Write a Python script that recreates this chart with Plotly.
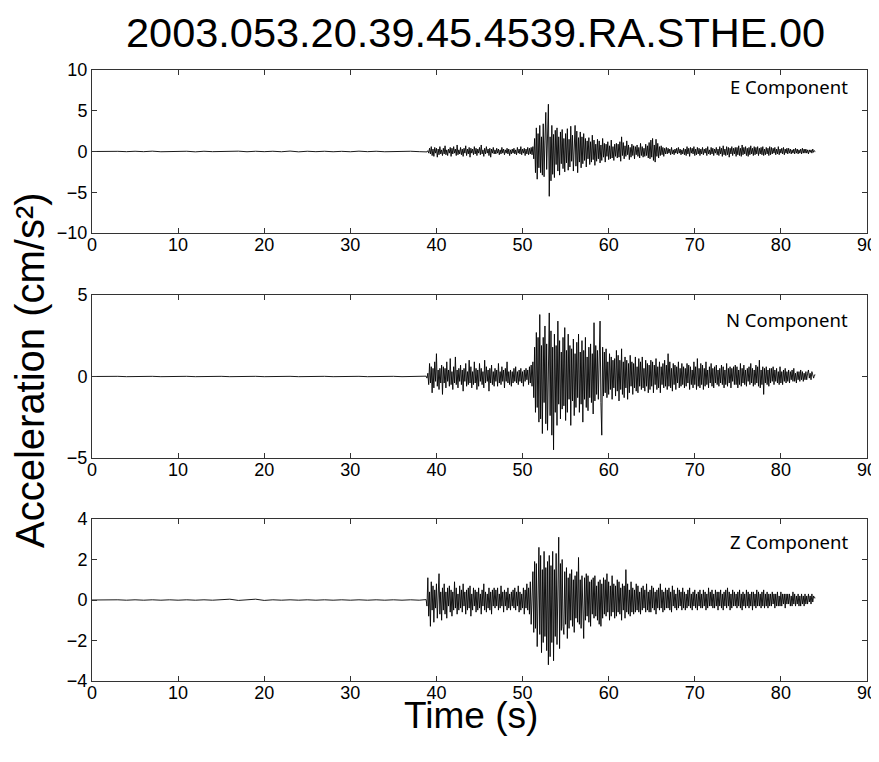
import numpy as np
import plotly.graph_objects as go

# ---------------- data ----------------
title_text = "2003.053.20.39.45.4539.RA.STHE.00"
components = ["E Component", "N Component", "Z Component"]
y_ranges = [[-10, 10], [-5, 5], [-4, 4]]
y_dticks = [5, 5, 2]
x_range = [0, 90]
x_dtick = 10

# pre-event record, one sample per second from 0 s
quiet_start = 0.0
quiet_step = 1.0
quiet_E = [0.0, 0.02, -0.03, 0.02, -0.02, 0.03, -0.02, 0.04, -0.03, 0.02,
           -0.02, 0.03, -0.04, 0.03, -0.02, 0.02, -0.03, 0.04, -0.03, 0.03,
           -0.02, 0.03, -0.03, 0.05, -0.04, 0.03, -0.02, 0.03, -0.03, 0.02,
           -0.03, 0.04, -0.02, 0.03, -0.03, 0.02, -0.02, 0.03, -0.02]
quiet_N = [0.0, 0.01, -0.01, 0.01, -0.01, 0.01, -0.01, 0.01, -0.01, 0.01,
           -0.01, 0.01, -0.01, 0.01, -0.01, 0.01, -0.01, 0.01, -0.01, 0.01,
           -0.01, 0.01, -0.01, 0.01, -0.01, 0.01, -0.01, 0.01, -0.01, 0.01,
           -0.01, 0.01, -0.01, 0.01, -0.01, 0.01, -0.01, 0.01, -0.01]
quiet_Z = [0.0, 0.01, -0.01, 0.01, -0.01, 0.01, -0.01, 0.01, -0.01, 0.01,
           -0.01, 0.01, -0.01, 0.01, -0.01, 0.01, 0.04, -0.02, 0.01, 0.04,
           -0.02, 0.01, -0.01, 0.01, -0.01, 0.01, -0.01, 0.01, -0.01, 0.01,
           -0.01, 0.01, -0.01, 0.01, -0.01, 0.01, -0.01, 0.01, -0.01]

# strong-motion record, one sample every 0.1 s from 38.8 s to 84.0 s
active_start = 38.8
sample_step = 0.1
acc_E = [
    0.02, -0.05, 0.1, -0.2, 0.4, -0.3, 0.6, -0.5, 0.3, -0.6, 0.5, -0.2, 0.4, -0.7, 0.3, -0.4, 0.6, -0.3, 0.2, -0.5,
    0.4, -0.3, 0.7, -0.4, 0.2, -0.5, 0.3, -0.2, 0.5, -0.6, 0.4, -0.3, 0.6, -0.2, 0.3, -0.5, 0.8, -0.4, 0.2, -0.3,
    0.5, -0.4, 0.3, -0.6, 0.4, -0.2, 0.7, -0.5, 0.3, -0.3, 0.5, -0.7, 0.4, -0.2, 0.3, -0.4, 0.6, -0.3, 0.4, -0.5,
    0.3, -0.2, 0.5, -0.4, 0.8, -0.3, 0.2, -0.6, 0.4, -0.3, 0.6, -0.2, 0.3, -0.5, 0.4, -0.7, 0.3, -0.2, 0.5, -0.3,
    0.2, -0.3, 0.4, -0.2, 0.3, -0.4, 0.2, -0.3, 0.5, -0.2, 0.3, -0.4, 0.2, -0.2, 0.4, -0.3, 0.3, -0.5, 0.2, -0.3,
    0.3, -0.2, 0.4, -0.3, 0.2, -0.4, 0.5, -0.2, 0.3, -0.3, 0.6, -0.4, 0.3, -0.2, 0.4, -0.5, 0.3, -0.3, 0.5, -0.4,
    0.4, -0.3, 0.5, -0.4, 0.6, -0.9, 1.6, -2.6, 2.9, -3.4, 2.2, -2.0, 3.2, -2.6, 1.8, -2.9, 3.4, -3.1, 1.4, 4.8,
    -2.2, 3.6, 5.8, -5.5, 1.8, -3.6, 3.2, -2.8, 2.1, -3.2, 2.6, -1.6, 2.9, -2.4, 1.8, -2.9, 2.4, -1.5, 2.7, -2.1,
    1.6, -2.5, 2.2, -1.4, 2.8, -2.3, 1.5, -1.9, 3.1, -1.2, 2.0, -2.4, 1.4, 3.2, -1.8, 2.5, -2.6, 1.7, -1.3, 2.4,
    -2.0, 1.8, -1.5, 2.2, -1.1, 1.6, -1.9, 1.3, -0.9, 1.7, -1.6, 1.2, -1.3, 2.0, -1.0, 1.4, -1.7, 0.9, -1.2, 1.5,
    -0.9, 1.3, -1.4, 0.8, -1.1, 1.6, -0.7, 1.0, -1.3, 0.9, -0.6, 1.2, -1.0, 0.7, -0.9, 1.4, -0.8, 0.6, -1.1, 0.9,
    -0.6, 1.0, -0.8, 0.9, -0.7, 1.2, -1.2, 1.8, -0.5, 1.1, -0.9, 0.7, -0.6, 1.3, -0.4, 0.8, -1.0, 0.5, -0.7, 0.9,
    -0.5, 0.7, -0.9, 0.6, -0.4, 0.8, -0.6, 0.5, -0.8, 1.0, -0.5, 0.6, -0.7, 0.4, -0.6, 0.9, -0.5, 0.7, -0.8, 1.1,
    -0.9, 1.4, -0.7, 1.6, -1.1, 0.8, -1.3, 1.5, -0.6, 1.0, -0.8, 0.6, -0.5, 0.7, -0.4, 0.5, -0.6, 0.4, -0.3, 0.5,
    -0.3, 0.4, -0.2, 0.3, -0.4, 0.5, -0.3, 0.2, -0.4, 0.3, -0.2, 0.4, -0.3, 0.5, -0.2, 0.3, -0.4, 0.2, -0.3, 0.4,
    -0.4, 0.3, -0.5, 0.6, -0.3, 0.4, -0.6, 0.5, -0.2, 0.4, -0.3, 0.6, -0.5, 0.3, -0.4, 0.5, -0.3, 0.4, -0.5, 0.3,
    -0.3, 0.5, -0.4, 0.3, -0.2, 0.4, -0.5, 0.6, -0.3, 0.2, -0.4, 0.5, -0.3, 0.4, -0.5, 0.3, -0.2, 0.5, -0.4, 0.3,
    -0.5, 0.6, -0.3, 0.4, -0.6, 0.7, -0.4, 0.3, -0.5, 0.6, -0.4, 0.5, -0.7, 0.4, -0.3, 0.6, -0.5, 0.4, -0.3, 0.5,
    -0.6, 0.5, -0.4, 0.7, -0.5, 0.4, -0.6, 0.8, -0.4, 0.5, -0.3, 0.6, -0.5, 0.4, -0.6, 0.5, -0.4, 0.7, -0.3, 0.4,
    -0.5, 0.6, -0.4, 0.5, -0.3, 0.6, -0.5, 0.4, -0.3, 0.5, -0.4, 0.6, -0.5, 0.3, -0.4, 0.5, -0.3, 0.4, -0.5, 0.6,
    -0.4, 0.5, -0.3, 0.4, -0.2, 0.5, -0.4, 0.3, -0.3, 0.6, -0.4, 0.3, -0.2, 0.4, -0.3, 0.5, -0.4, 0.3, -0.2, 0.4,
    -0.3, 0.4, -0.2, 0.3, -0.3, 0.2, -0.2, 0.3, -0.3, 0.4, -0.2, 0.3, -0.3, 0.2, -0.2, 0.3, -0.3, 0.4, -0.2, 0.3,
    -0.2, 0.3, -0.2, 0.2, -0.3, 0.2, -0.1, 0.2, -0.2, 0.3, -0.1, 0.1, 0.0]
acc_N = [
    0.02, -0.1, 0.2, -0.5, 0.8, -0.4, 0.6, -1.0, 0.5, -0.7, 0.9, -0.3, 1.4, -0.6, 0.4, -0.8, 0.5, -0.4, 0.7, -1.1,
    0.6, -0.4, 0.5, -0.7, 0.9, -0.3, 0.4, -0.6, 1.1, -0.5, 0.3, -0.8, 0.6, -0.4, 1.2, -0.5, 0.4, -0.7, 0.5, -0.3,
    0.7, -0.5, 0.4, -0.9, 0.5, -0.3, 0.8, -0.6, 0.3, -0.5, 1.0, -0.4, 0.6, -0.7, 0.3, -0.5, 0.9, -0.4, 0.5, -0.8,
    0.4, -0.6, 0.8, -0.3, 0.5, -0.5, 0.3, -0.7, 1.0, -0.4, 0.6, -0.3, 0.4, -0.9, 0.5, -0.4, 0.7, -0.5, 0.3, -0.6,
    0.5, -0.3, 0.4, -0.6, 0.8, -0.4, 0.3, -0.5, 0.6, -0.3, 0.4, -0.7, 0.5, -0.3, 0.9, -0.4, 0.3, -0.5, 0.4, -0.6,
    0.3, -0.4, 0.5, -0.3, 0.6, -0.4, 0.3, -0.5, 0.4, -0.3, 0.5, -0.4, 0.3, -0.6, 0.4, -0.3, 0.5, -0.2, 0.4, -0.5,
    0.6, -0.4, 0.7, -0.6, 0.9, -1.3, 1.8, -2.2, 2.7, -1.9, 2.4, -2.8, 3.8, -2.6, 1.9, -3.5, 2.4, -1.6, 3.1, -2.9,
    2.0, -3.3, 1.5, 3.9, -2.4, 2.8, -3.6, 1.8, -4.5, 2.6, -2.2, 1.9, -3.0, 3.4, -1.7, 2.2, -2.6, 1.5, -2.0, 2.4,
    -1.8, 3.0, -2.7, 1.6, -2.2, 2.6, -1.4, 1.9, -3.0, 1.7, -1.5, 2.3, -2.4, 1.4, -1.9, 2.1, -1.3, 2.6, -2.2, 1.5,
    -1.7, 2.2, -2.8, 1.6, -1.4, 2.4, -1.9, 1.2, -2.1, 1.8, -1.3, 2.0, -1.6, 1.4, -2.3, 3.3, -1.5, 1.9, -1.1, 1.6,
    -1.4, 1.2, 3.4, -1.6, -3.6, 1.8, -1.2, 1.5, -1.0, 1.7, -1.3, 0.9, -1.1, 1.4, -0.8, 1.2, -1.4, 1.0, -0.7, 1.1,
    -1.2, 1.6, -0.9, 1.3, -1.5, 1.0, -0.8, 1.7, -1.1, 0.9, -1.3, 1.2, -0.7, 1.0, -1.4, 0.8, -1.0, 1.3, -0.6, 0.9,
    -1.1, 0.8, -0.7, 1.2, -0.9, 0.6, -1.0, 1.1, -0.6, 0.9, -0.8, 1.2, -0.7, 0.5, -0.9, 1.0, -0.6, 0.8, -1.0, 0.7,
    -0.8, 1.0, -0.6, 0.9, -1.0, 0.7, -0.5, 1.1, -0.8, 0.6, -0.7, 0.9, -1.0, 0.6, -0.5, 0.8, -0.7, 1.0, -0.6, 0.7,
    -0.8, 1.4, -0.6, 0.9, -0.7, 0.5, -0.9, 0.8, -0.5, 0.7, -0.8, 0.6, -0.4, 0.9, -0.7, 0.5, -0.6, 0.8, -0.5, 0.6,
    -0.7, 0.5, -0.6, 0.8, -0.4, 0.7, -0.8, 0.6, -0.5, 0.4, -0.7, 0.9, -0.5, 0.6, -0.8, 1.1, -0.6, 0.5, -0.7, 0.8,
    -0.5, 0.7, -0.8, 0.5, -0.6, 0.9, -0.5, 0.4, -0.7, 0.6, -0.4, 0.8, -0.6, 0.5, -0.7, 0.6, -0.4, 0.7, -0.5, 0.4,
    -0.6, 0.5, -0.4, 0.7, -0.5, 0.6, -0.7, 0.4, -0.5, 0.8, -0.6, 0.5, -0.4, 0.6, -0.7, 0.5, -0.3, 0.6, -0.5, 0.7,
    -0.5, 0.6, -0.7, 0.4, -0.5, 0.8, -0.6, 0.5, -0.4, 0.7, -0.5, 0.4, -0.6, 0.5, -0.3, 0.6, -0.5, 0.8, -0.4, 0.5,
    -0.6, 0.4, -0.5, 0.7, -0.4, 0.6, -0.6, 1.0, -0.7, 0.4, -0.5, 0.6, -1.1, 0.5, -0.4, 0.6, -0.5, 0.4, -0.6, 0.5,
    -0.4, 0.5, -0.3, 0.6, -0.5, 0.4, -0.3, 0.5, -0.4, 0.3, -0.5, 0.6, -0.4, 0.3, -0.5, 0.4, -0.3, 0.5, -0.4, 0.3,
    -0.3, 0.4, -0.4, 0.3, -0.2, 0.4, -0.3, 0.5, -0.3, 0.2, -0.4, 0.3, -0.2, 0.3, -0.3, 0.4, -0.2, 0.3, -0.3, 0.2,
    -0.2, 0.3, -0.2, 0.2, 0.4, -0.1, 0.2, -0.2, 0.3, 0.1, -0.1, 0.1, 0.1]
acc_Z = [
    0.02, -0.3, 1.1, -0.8, 0.4, -1.3, 0.9, -0.5, 0.7, -1.1, 0.5, -0.4, 0.8, -0.9, 0.6, 1.3, -0.7, 0.4, -1.0, 0.6,
    -0.5, 0.8, -0.7, 0.4, -0.9, 0.6, -0.3, 0.7, -0.6, 0.5, -0.8, 0.4, -0.5, 0.9, -0.4, 0.6, -0.7, 0.3, -0.5, 0.7,
    -0.4, 0.5, -0.6, 0.8, -0.3, 0.4, -0.7, 0.5, -0.5, 0.6, -0.4, 0.7, -0.8, 0.3, -0.5, 0.6, -0.3, 0.5, -0.6, 0.4,
    -0.5, 0.6, -0.4, 0.3, -0.7, 0.5, -0.3, 0.8, -0.5, 0.4, -0.6, 0.3, -0.4, 0.6, -0.5, 0.4, -0.7, 0.5, -0.3, 0.6,
    -0.4, 0.5, -0.3, 0.6, -0.5, 0.3, -0.4, 0.7, -0.3, 0.4, -0.6, 0.5, -0.3, 0.4, -0.5, 0.6, -0.4, 0.3, -0.5, 0.4,
    -0.3, 0.5, -0.4, 0.6, -0.5, 0.4, -0.3, 0.7, -0.6, 0.4, -0.5, 0.3, -0.4, 0.6, -0.7, 0.5, -0.4, 0.8, -0.5, 0.6,
    -0.7, 0.9, -1.2, 0.8, 1.4, -1.6, 1.9, -1.4, 1.8, -2.3, 1.3, 2.6, -1.7, 2.2, -2.6, 1.5, -2.1, 2.4, -1.8, 1.6,
    -2.5, 1.9, -3.2, 2.2, -2.8, 1.7, -2.1, 2.4, -3.0, 1.5, -1.8, 2.3, -2.2, 1.6, 3.1, -2.4, 1.8, -1.5, 2.0, -1.3,
    -1.7, 1.4, -1.2, 1.6, -1.9, 1.1, -1.4, 1.3, -1.0, 1.5, -1.3, 1.0, -1.6, 1.2, -0.9, 1.4, -1.1, 2.1, -1.2, 1.0,
    -1.4, 1.2, -0.9, -1.9, 1.1, -1.0, 1.3, -0.8, 1.2, -1.1, 0.9, -1.3, 1.0, -0.7, 1.1, -0.9, 1.2, -0.8, 0.7, -1.0,
    0.9, -1.2, 1.0, -1.3, 0.8, -0.9, 1.1, -0.7, 1.0, -0.8, 1.3, -0.6, 0.9, -1.0, 0.7, -0.8, 1.2, -0.6, 0.8, -0.9,
    0.7, -0.8, 1.0, -0.6, 0.9, -0.7, 0.6, -1.0, 0.8, -0.5, 0.7, -0.9, 1.5, -0.6, 0.8, -0.7, 0.5, -0.8, 0.9, -0.6,
    0.6, -0.7, 0.5, -0.6, 0.8, -0.5, 0.7, -0.6, 0.4, -0.7, 0.6, -0.5, 0.7, -0.4, 0.5, -0.6, 0.8, -0.5, 0.4, -0.6,
    0.5, -0.6, 0.7, -0.4, 0.6, -0.5, 0.4, -0.7, 0.5, -0.4, 0.6, -0.5, 0.8, -0.4, 0.5, -0.6, 0.4, -0.5, 0.6, -0.4,
    0.5, -0.4, 0.6, -0.5, 0.4, -0.6, 0.7, -0.3, 0.5, -0.4, 0.3, -0.5, 0.6, -0.4, 0.5, -0.3, 0.4, -0.5, 0.6, -0.4,
    0.4, -0.5, 0.3, -0.4, 0.5, -0.3, 0.6, -0.4, 0.3, -0.5, 0.4, -0.3, 0.5, -0.4, 0.3, -0.5, 0.4, -0.3, 0.5, -0.4,
    0.3, -0.4, 0.5, -0.3, 0.4, -0.5, 0.3, -0.4, 0.6, -0.3, 0.4, -0.3, 0.5, -0.4, 0.3, -0.4, 0.5, -0.3, 0.4, -0.5,
    0.4, -0.3, 0.5, -0.4, 0.3, -0.5, 0.4, -0.3, 0.5, -0.4, 0.6, -0.3, 0.4, -0.5, 0.3, -0.4, 0.5, -0.3, 0.4, -0.3,
    0.3, -0.4, 0.4, -0.3, 0.5, -0.4, 0.3, -0.5, 0.4, -0.3, 0.3, -0.4, 0.5, -0.3, 0.4, -0.4, 0.3, -0.3, 0.4, -0.5,
    0.4, -0.3, 0.3, -0.4, 0.5, -0.3, 0.4, -0.3, 0.3, -0.4, 0.4, -0.3, 0.5, -0.4, 0.3, -0.3, 0.4, -0.4, 0.3, -0.3,
    0.3, -0.3, 0.4, -0.2, 0.3, -0.4, 0.3, -0.3, 0.4, -0.3, 0.2, -0.3, 0.4, -0.3, 0.3, -0.2, 0.3, -0.4, 0.3, -0.2,
    0.3, -0.2, 0.3, -0.3, 0.2, -0.3, 0.4, -0.2, 0.3, -0.3, 0.2, -0.2, 0.3, -0.3, 0.2, -0.3, 0.3, -0.2, 0.2, -0.3,
    0.3, -0.2, 0.2, -0.2, 0.3, -0.1, 0.2, -0.2, 0.3, -0.1, 0.2, 0.1, 0.1]

x_title = "Time (s)"
y_title = "Acceleration (cm/s²)"

# ---------------- figure ----------------
# the page body adds an 8 px margin, so the figure is positioned to compensate
OFF = 8
W, H = 879 - OFF, 762 - OFF


def fx(px):
    return (px - OFF) / W


def fy(px):
    return 1 - (px - OFF) / H


px_left, px_right = 92, 867
panels_px = [(70, 233), (295, 458), (519, 681)]

quiet_sets = [quiet_E, quiet_N, quiet_Z]
active_sets = [acc_E, acc_N, acc_Z]

fig = go.Figure()
tick_font = dict(family="Liberation Sans, Arial, sans-serif", size=18, color="black")

for i in range(3):
    q = np.array(quiet_sets[i])
    a = np.array(active_sets[i])
    tq = quiet_start + quiet_step * np.arange(len(q))
    ta = active_start + sample_step * np.arange(len(a))
    t = np.concatenate([tq, ta])
    v = np.concatenate([q, a])
    sfx = "" if i == 0 else str(i + 1)
    fig.add_trace(go.Scatter(x=t, y=v, mode="lines",
                             line=dict(color="black", width=0.9),
                             xaxis="x" + sfx, yaxis="y" + sfx,
                             showlegend=False, hoverinfo="skip"))
    top, bot = panels_px[i]
    common = dict(showline=True, linecolor="#333", linewidth=1, mirror="ticks",
                  ticks="inside", ticklen=5, tickcolor="#333", showgrid=False,
                  zeroline=False, tickfont=tick_font, ticklabeloverflow="allow")
    fig.layout["xaxis" + sfx] = dict(domain=[fx(px_left), fx(px_right)],
                                     anchor="y" + sfx, range=x_range, dtick=x_dtick,
                                     tick0=0, ticklabelstandoff=-5, **common)
    fig.layout["yaxis" + sfx] = dict(domain=[fy(bot), fy(top)],
                                     anchor="x" + sfx, range=y_ranges[i],
                                     dtick=y_dticks[i], tick0=0, **common)

annotations = []
label_y_px = [87, 320, 541]
for i in range(3):
    annotations.append(dict(text=components[i], xref="paper", yref="paper",
                            x=fx(850), y=fy(label_y_px[i]), xanchor="right",
                            yanchor="middle", showarrow=False,
                            font=dict(family="Noto Sans, Open Sans, sans-serif",
                                      size=18.5, color="black")))
annotations.append(dict(text=title_text, xref="paper", yref="paper",
                        x=fx(475), y=fy(33), xanchor="center", yanchor="middle",
                        showarrow=False,
                        font=dict(family="Liberation Sans, Arial, sans-serif",
                                  size=41.5, color="black")))
annotations.append(dict(text=x_title, xref="paper", yref="paper",
                        x=fx(471), y=fy(715), xanchor="center", yanchor="middle",
                        showarrow=False,
                        font=dict(family="Liberation Sans, Arial, sans-serif",
                                  size=37, color="black")))
annotations.append(dict(text=y_title, xref="paper", yref="paper",
                        x=fx(30), y=fy(370), xanchor="center", yanchor="middle",
                        textangle=-90, showarrow=False,
                        font=dict(family="Liberation Sans, Arial, sans-serif",
                                  size=40, color="black")))

fig.update_layout(width=W, height=H,
                  margin=dict(l=0, r=0, t=0, b=0, autoexpand=False),
                  paper_bgcolor="white", plot_bgcolor="white",
                  annotations=annotations)

fig.write_html("out.html")
